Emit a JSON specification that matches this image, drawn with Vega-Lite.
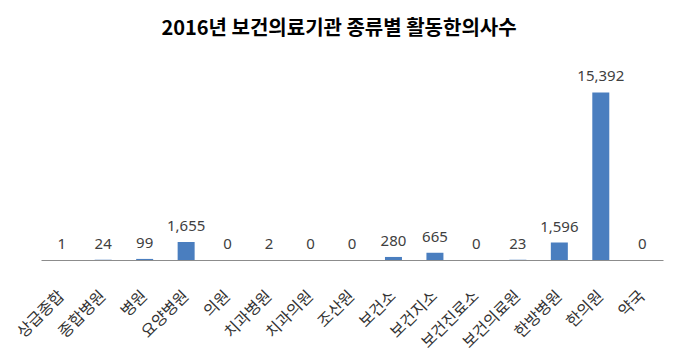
{
  "$schema": "https://vega.github.io/schema/vega-lite/v6.json",
  "autosize": "none",
  "width": 622,
  "height": 196,
  "padding": {"left": 41, "top": 64, "right": 17, "bottom": 102},
  "background": "white",
  "title": {
    "text": "2016년 보건의료기관 종류별 활동한의사수",
    "font": "Noto Sans CJK KR",
    "fontSize": 20,
    "fontWeight": "bold",
    "color": "#000000",
    "anchor": "middle",
    "offset": 25,
    "dx": -13
  },
  "data": {
    "values": [
      {"type": "상급종합", "count": 1},
      {"type": "종합병원", "count": 24},
      {"type": "병원", "count": 99},
      {"type": "요양병원", "count": 1655},
      {"type": "의원", "count": 0},
      {"type": "치과병원", "count": 2},
      {"type": "치과의원", "count": 0},
      {"type": "조산원", "count": 0},
      {"type": "보건소", "count": 280},
      {"type": "보건지소", "count": 665},
      {"type": "보건진료소", "count": 0},
      {"type": "보건의료원", "count": 23},
      {"type": "한방병원", "count": 1596},
      {"type": "한의원", "count": 15392},
      {"type": "약국", "count": 0}
    ]
  },
  "encoding": {
    "x": {
      "field": "type",
      "type": "nominal",
      "sort": null,
      "scale": {"paddingInner": 0.59, "paddingOuter": 0.295},
      "axis": {
        "title": null,
        "labelAngle": -45,
        "labelAlign": "right",
        "labelBaseline": "middle",
        "labelFont": "Noto Sans CJK KR",
        "labelFontSize": 16,
        "labelColor": "#333333",
        "labelPadding": 33,
        "ticks": false,
        "domainColor": "#8c8c8c",
        "domainWidth": 1
      }
    },
    "y": {
      "field": "count",
      "type": "quantitative",
      "scale": {"domain": [0, 18000]},
      "axis": null
    }
  },
  "layer": [
    {"mark": {"type": "bar", "color": "#4A7EBF"}},
    {
      "mark": {
        "type": "text",
        "baseline": "middle",
        "dy": -16,
        "font": "Noto Sans",
        "fontSize": 15,
        "color": "#404040"
      },
      "encoding": {"text": {"field": "count", "type": "quantitative", "format": ","}}
    }
  ],
  "config": {"view": {"stroke": null}}
}
